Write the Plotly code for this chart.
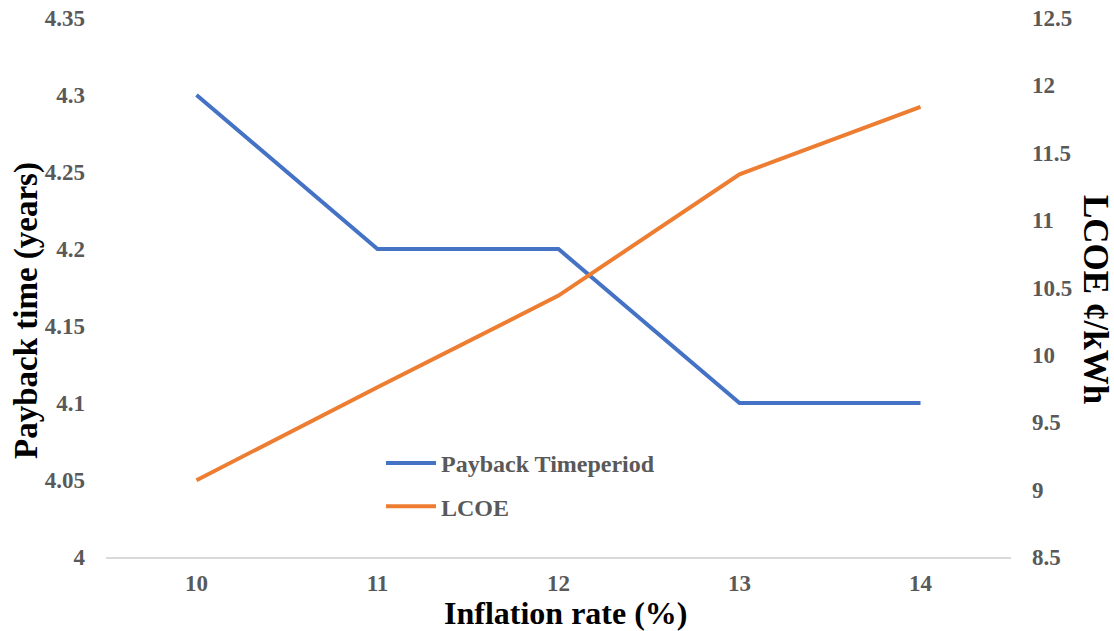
import plotly.graph_objects as go

# Sensitivity of payback time and LCOE to inflation rate
inflation_rate = [10, 11, 12, 13, 14]
payback_years = [4.3, 4.2, 4.2, 4.1, 4.1]
lcoe_cents = [9.07, 9.76, 10.44, 11.34, 11.84]

FONT = "Liberation Serif, Times New Roman, serif"
TICK_GREY = "#595959"
BLUE = "#4472C4"
ORANGE = "#ED7D31"

fig = go.Figure()
fig.add_trace(go.Scatter(
    x=[str(v) for v in inflation_rate], y=payback_years, name="Payback Timeperiod",
    mode="lines", line=dict(color=BLUE, width=4), legendgroup="a", yaxis="y"))
fig.add_trace(go.Scatter(
    x=[str(v) for v in inflation_rate], y=lcoe_cents, name="LCOE",
    mode="lines", line=dict(color=ORANGE, width=4), legendgroup="b", yaxis="y2"))

tick_font = dict(family=FONT, size=23, color=TICK_GREY, weight="bold")

TOP, BOTTOM = 18, 557
PH = BOTTOM - TOP


def py(pixel_y):
    return (BOTTOM - pixel_y) / PH


def px(pixel_x):
    return (pixel_x - 106) / 905


fig.update_layout(
    width=1114, height=631,
    margin=dict(l=106, r=103, t=TOP, b=631 - BOTTOM),
    paper_bgcolor="white", plot_bgcolor="white",
    showlegend=True,
    legend=dict(
        x=px(381), y=py(441), xanchor="left", yanchor="top",
        font=dict(family=FONT, size=24, color=TICK_GREY, weight="bold"),
        bgcolor="rgba(0,0,0,0)", tracegroupgap=9, itemwidth=50,
    ),
    xaxis=dict(
        type="category", range=[-0.5, 4.5], showgrid=False, zeroline=False,
        showline=True, linecolor="#d9d9d9", linewidth=2, automargin=False,
        tickfont=tick_font, ticks="", ticklabelstandoff=4,
    ),
    yaxis=dict(
        range=[4, 4.35], dtick=0.05, tick0=4, showgrid=False, zeroline=False,
        showline=False, tickfont=tick_font, ticks="", ticklabelstandoff=20,
        tickformat="~g", automargin=False,
    ),
    yaxis2=dict(
        range=[8.5, 12.5], dtick=0.5, tick0=8.5, showgrid=False, zeroline=False,
        overlaying="y", side="right", showline=False, tickfont=tick_font,
        ticks="", ticklabelstandoff=20, tickformat="~g", automargin=False,
    ),
    annotations=[
        dict(text="Inflation rate (%)", xref="paper", yref="paper",
             x=px(566), y=py(613), showarrow=False,
             xanchor="center", yanchor="middle",
             font=dict(family=FONT, size=32, color="black", weight="bold")),
        dict(text="Payback time (years)", xref="paper", yref="paper",
             x=px(26), y=py(311), showarrow=False,
             textangle=-90, xanchor="center", yanchor="middle",
             font=dict(family=FONT, size=33, color="black", weight="bold")),
        dict(text="LCOE ¢/kWh", xref="paper", yref="paper",
             x=px(1096), y=py(299), showarrow=False,
             textangle=90, xanchor="center", yanchor="middle",
             font=dict(family=FONT, size=35, color="black", weight="bold")),
    ],
)

fig.write_html("out.html")
